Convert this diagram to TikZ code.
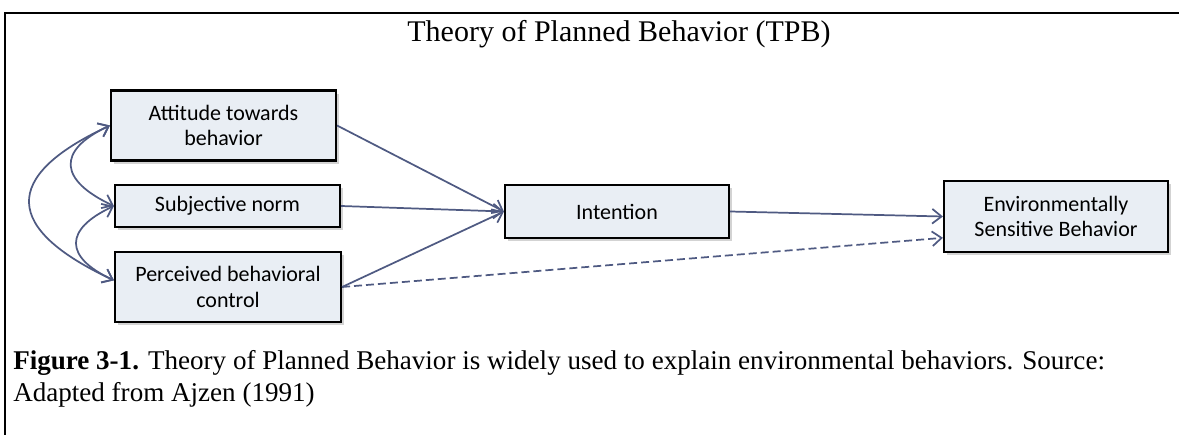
\documentclass[tikz,border=0pt]{standalone}
\usepackage{fontspec}
\setmainfont{Liberation Serif}
\newfontfamily\boxfont{Carlito}
\usepackage{xcolor}
\usepackage{tikz}
\usetikzlibrary{arrows.meta, shadows}
\definecolor{linkblue}{HTML}{4F5A82}
\definecolor{boxfill}{HTML}{E9EEF4}
\tikzset{
  factor/.style={draw=black, line width=1.6pt, fill=boxfill, align=center,
    font=\boxfont\fontsize{16.5}{19}\selectfont, inner sep=2pt,
    drop shadow={shadow xshift=2pt, shadow yshift=-2.5pt, opacity=0.35}},
  link/.style={draw=linkblue, line width=1.3pt, -{Straight Barb[length=7pt,width=11pt,line width=1.3pt]}},
  twoway/.style={link, {Straight Barb[length=7pt,width=11pt,line width=1.3pt]}-{Straight Barb[length=7pt,width=11pt,line width=1.3pt]}}
}

\begin{document}
\begin{tikzpicture}[x=0.75pt,y=-0.75pt]
            \useasboundingbox (0,0) rectangle (1179,435);
            \draw[line width=2.2pt] (1179,13) -- (5,13) -- (5,435);
            \node (title) at (619,34) {\fontsize{22.5}{26}\selectfont Theory of Planned Behavior (TPB)};
            % the three factors
            \node[factor, minimum width=168.75pt, minimum height=52.5pt] (att) at (223.5,125.5) {Attitude towards\\behavior};
            \node[factor, minimum width=168.75pt, minimum height=31.5pt] (subj) at (227.5,206) {Subjective norm};
            \node[factor, minimum width=169.5pt, minimum height=52.5pt] (perc) at (228,287) {Perceived behavioral\\control};
            \node[factor, minimum width=168pt, minimum height=39.75pt] (intent) at (617,211.5) {Intention};
            \node[factor, minimum width=168pt, minimum height=53.25pt] (esb) at (1056,216.5) {Environmentally\\Sensitive Behavior};
            % paths
            \draw[link] (att.east) -- (intent.west);
            \draw[link] (subj.east) -- (intent.west);
            \draw[link] (perc.east) -- (intent.west);
            \draw[link] (intent.east) -- (esb.west);
            \draw[link, dashed, dash pattern=on 6pt off 3pt] (perc.east) -- ([yshift=-16pt]esb.west);
            % correlations
            \draw[twoway] (att.west) to[out=205, in=155, looseness=1.9] (subj.west);
            \draw[twoway] (subj.west) to[out=205, in=155, looseness=1.9] ([yshift=5pt]perc.west);
            \draw[twoway] (att.west) to[out=205, in=155, looseness=2] ([yshift=5pt]perc.west);
            \node[anchor=base west, align=left, inner sep=0pt, font=\fontsize{20.3}{23.5}\selectfont] (caption) at (13,401)
              {\textbf{Figure 3-1.} Theory of Planned Behavior is widely used to explain environmental behaviors. Source:\\Adapted from Ajzen (1991)};
        \end{tikzpicture}
\end{document}
